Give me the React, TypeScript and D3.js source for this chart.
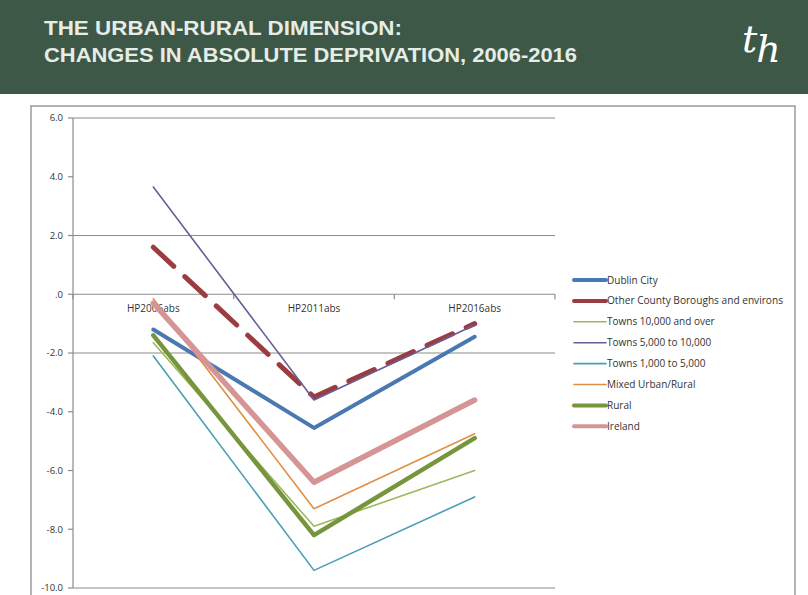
import React from "react";
import * as d3 from "d3";

const categories = ["HP2006abs", "HP2011abs", "HP2016abs"];

const seriesNames = [
  "Dublin City",
  "Other County Boroughs and environs",
  "Towns 10,000 and over",
  "Towns 5,000 to 10,000",
  "Towns 1,000 to 5,000",
  "Mixed Urban/Rural",
  "Rural",
  "Ireland",
];

const dublinCity = [-1.2, -4.55, -1.45];
const otherBoroughs = [1.6, -3.5, -1.0];
const towns10000 = [-1.65, -7.9, -6.0];
const towns5000 = [3.65, -3.6, -1.05];
const towns1000 = [-2.1, -9.4, -6.9];
const mixedUrbanRural = [-0.15, -7.3, -4.75];
const rural = [-1.4, -8.2, -4.9];
const ireland = [-0.3, -6.4, -3.6];

const seriesValues = [
  dublinCity,
  otherBoroughs,
  towns10000,
  towns5000,
  towns1000,
  mixedUrbanRural,
  rural,
  ireland,
];

const yTicks = [6, 4, 2, 0, -2, -4, -6, -8, -10];
const yTickLabels = ["6.0", "4.0", "2.0", ".0", "-2.0", "-4.0", "-6.0", "-8.0", "-10.0"];
const gridValues = [6, 2, -2, -10];

const seriesStyles = [
  { color: "#4a78b0", width: 4, dash: "" },
  { color: "#9b3d40", width: 5, dash: "28 15" },
  { color: "#9cb85e", width: 1.6, dash: "" },
  { color: "#6b5b96", width: 1.6, dash: "" },
  { color: "#4a9db5", width: 1.6, dash: "" },
  { color: "#e08f45", width: 1.6, dash: "" },
  { color: "#76953d", width: 4.5, dash: "" },
  { color: "#d59595", width: 5.5, dash: "" },
];

const W = 808;
const H = 595;
const plot = { left: 73, right: 555, top: 118, bottom: 588 };

export default function App() {
  const x = d3
    .scaleBand<string>()
    .domain(categories)
    .range([plot.left, plot.right]);
  const y = d3.scaleLinear().domain([-10, 6]).range([plot.bottom, plot.top]);

  const line = d3
    .line<number>()
    .x((_, i) => (x(categories[i]) as number) + x.bandwidth() / 2)
    .y((d) => y(d));

  const boundaries = categories.map((c) => x(c) as number).concat([plot.right]);
  const font = "'Liberation Sans', Arial, sans-serif";
  const labelFont = "'Open Sans', 'Liberation Sans', sans-serif";

  return (
    <svg
      width={W}
      height={H}
      style={{ position: "absolute", left: 0, top: 0 }}
      viewBox={`0 0 ${W} ${H}`}
    >
      <rect x={0} y={0} width={W} height={H} fill="#ffffff" />
      {/* header band */}
      <rect x={0} y={0} width={W} height={94} fill="#3d5847" />
      <text
        x={44}
        y={35}
        fill="#e6ece6"
        fontFamily={font}
        fontWeight="bold"
        fontSize={19.5}
        textLength={358}
        lengthAdjust="spacingAndGlyphs"
      >
        THE URBAN-RURAL DIMENSION:
      </text>
      <text
        x={44}
        y={62}
        fill="#e6ece6"
        fontFamily={font}
        fontWeight="bold"
        fontSize={19.5}
        textLength={533}
        lengthAdjust="spacingAndGlyphs"
      >
        CHANGES IN ABSOLUTE DEPRIVATION, 2006-2016
      </text>
      <text
        x={742}
        y={52}
        fill="#ffffff"
        fontFamily="'DejaVu Serif', serif"
        fontStyle="italic"
        fontSize={38}
      >
        <tspan>t</tspan>
        <tspan dx={-1} dy={10}>h</tspan>
      </text>

      {/* chart frame */}
      <rect
        x={31}
        y={106}
        width={764}
        height={520}
        fill="#ffffff"
        stroke="#8c8c8c"
        strokeWidth={1.3}
      />

      {/* horizontal gridlines */}
      {gridValues.map((v) => (
        <line
          key={"g" + v}
          x1={plot.left}
          x2={plot.right}
          y1={y(v)}
          y2={y(v)}
          stroke="#8c8c8c"
          strokeWidth={1.2}
        />
      ))}

      {/* value axis */}
      <line
        x1={plot.left}
        x2={plot.left}
        y1={plot.top}
        y2={plot.bottom}
        stroke="#8c8c8c"
        strokeWidth={1.2}
      />
      {yTicks.map((v, i) => (
        <g key={"t" + v}>
          <line
            x1={plot.left - 5}
            x2={plot.left}
            y1={y(v)}
            y2={y(v)}
            stroke="#8c8c8c"
            strokeWidth={1.2}
          />
          <text
            x={plot.left - 10}
            y={y(v)}
            dy="0.35em"
            textAnchor="end"
            fontFamily={labelFont}
            fontSize={9.5}
            fill="#333333"
          >
            {yTickLabels[i]}
          </text>
        </g>
      ))}

      {/* category axis at zero */}
      <line
        x1={plot.left}
        x2={plot.right}
        y1={y(0)}
        y2={y(0)}
        stroke="#8c8c8c"
        strokeWidth={1.2}
      />
      {boundaries.map((bx, i) => (
        <line
          key={"b" + i}
          x1={bx}
          x2={bx}
          y1={y(0)}
          y2={y(0) + 5}
          stroke="#8c8c8c"
          strokeWidth={1.2}
        />
      ))}
      {categories.map((c) => (
        <text
          key={c}
          x={(x(c) as number) + x.bandwidth() / 2}
          y={y(0) + 18}
          textAnchor="middle"
          fontFamily={labelFont}
          fontSize={10}
          fill="#333333"
        >
          {c}
        </text>
      ))}

      {/* series */}
      {seriesValues.map((vals, i) => (
        <path
          key={seriesNames[i]}
          d={line(vals) as string}
          fill="none"
          stroke={seriesStyles[i].color}
          strokeWidth={seriesStyles[i].width}
          strokeDasharray={seriesStyles[i].dash || undefined}
          strokeLinecap="round"
          strokeLinejoin="round"
        />
      ))}

      {/* legend */}
      {seriesNames.map((name, i) => {
        const ly = 280 + i * 20.9;
        return (
          <g key={"l" + name}>
            <line
              x1={574}
              x2={606}
              y1={ly}
              y2={ly}
              stroke={seriesStyles[i].color}
              strokeWidth={Math.min(seriesStyles[i].width, 4)}
              strokeLinecap="round"
            />
            <text
              x={607}
              y={ly}
              dy="0.35em"
              fontFamily={labelFont}
              fontSize={10}
              fill="#333333"
              textLength={name.length > 30 ? 176 : undefined}
              lengthAdjust="spacingAndGlyphs"
            >
              {name}
            </text>
          </g>
        );
      })}
    </svg>
  );
}
